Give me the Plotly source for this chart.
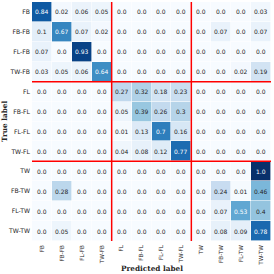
import plotly.graph_objects as go
import plotly.colors as pc

labels = ["FB", "FB-FB", "FL-FB", "TW-FB", "FL", "FB-FL", "FL-FL", "TW-FL",
          "TW", "FB-TW", "FL-TW", "TW-TW"]

row_FB    = [0.84, 0.02, 0.06, 0.05, 0.0, 0.0, 0.0, 0.0, 0.0, 0.0, 0.0, 0.03]
row_FB_FB = [0.1, 0.67, 0.07, 0.02, 0.0, 0.0, 0.0, 0.0, 0.0, 0.07, 0.0, 0.07]
row_FL_FB = [0.07, 0.0, 0.93, 0.0, 0.0, 0.0, 0.0, 0.0, 0.0, 0.0, 0.0, 0.0]
row_TW_FB = [0.03, 0.05, 0.06, 0.64, 0.0, 0.0, 0.0, 0.0, 0.0, 0.0, 0.02, 0.19]
row_FL    = [0.0, 0.0, 0.0, 0.0, 0.27, 0.32, 0.18, 0.23, 0.0, 0.0, 0.0, 0.0]
row_FB_FL = [0.0, 0.0, 0.0, 0.0, 0.05, 0.39, 0.26, 0.3, 0.0, 0.0, 0.0, 0.0]
row_FL_FL = [0.0, 0.0, 0.0, 0.0, 0.01, 0.13, 0.7, 0.16, 0.0, 0.0, 0.0, 0.0]
row_TW_FL = [0.0, 0.0, 0.0, 0.0, 0.04, 0.08, 0.12, 0.77, 0.0, 0.0, 0.0, 0.0]
row_TW    = [0.0, 0.0, 0.0, 0.0, 0.0, 0.0, 0.0, 0.0, 0.0, 0.0, 0.0, 1.0]
row_FB_TW = [0.0, 0.28, 0.0, 0.0, 0.0, 0.0, 0.0, 0.0, 0.0, 0.24, 0.01, 0.46]
row_FL_TW = [0.0, 0.0, 0.0, 0.0, 0.0, 0.0, 0.0, 0.0, 0.0, 0.07, 0.53, 0.4]
row_TW_TW = [0.0, 0.05, 0.0, 0.0, 0.0, 0.0, 0.0, 0.0, 0.0, 0.08, 0.09, 0.78]

z = [row_FB, row_FB_FB, row_FL_FB, row_TW_FB, row_FL, row_FB_FL, row_FL_FL,
     row_TW_FL, row_TW, row_FB_TW, row_FL_TW, row_TW_TW]

n = len(labels)
idx = list(range(n))

blues = pc.sequential.Blues
cs = [[i / (len(blues) - 1), c] for i, c in enumerate(blues)]

fig = go.Figure()
fig.add_trace(go.Heatmap(
    z=z, x=idx, y=idx, colorscale=cs, zmin=0, zmax=1, showscale=False,
    xgap=0.6, ygap=0.6, hoverinfo="skip",
))

# cell annotations
for i, row in enumerate(z):
    for j, v in enumerate(row):
        fig.add_annotation(
            x=j, y=i, text=str(v), showarrow=False,
            font=dict(family="DejaVu Sans", size=6,
                      color="white" if v > 0.5 else "#262626"),
        )

# red block separators
for b in [3.5, 7.5]:
    fig.add_shape(type="line", x0=b, x1=b, y0=-0.5, y1=n - 0.5,
                  line=dict(color="red", width=1.5), layer="above")
    fig.add_shape(type="line", x0=-0.5, x1=n - 0.5, y0=b, y1=b,
                  line=dict(color="red", width=1.5), layer="above")

fig.add_annotation(x=0.5, y=-0.113, xref="paper", yref="paper",
                   text="<b>Predicted label</b>", showarrow=False, yanchor="middle",
                   font=dict(family="DejaVu Serif", size=7.3, color="#262626"))
fig.add_annotation(x=-0.115, y=0.5, xref="paper", yref="paper",
                   text="<b>True label</b>", showarrow=False, textangle=-90,
                   xanchor="center",
                   font=dict(family="DejaVu Serif", size=7.3, color="#262626"))

fig.update_xaxes(tickvals=idx, ticktext=labels, tickangle=-90, range=[-0.5, n - 0.5],
                 showgrid=False, zeroline=False, ticks="", ticklabelstandoff=2,
                 tickfont=dict(family="DejaVu Sans", size=5.7, color="#262626"))
fig.update_yaxes(tickvals=idx, ticktext=labels, range=[n - 0.5, -0.5],
                 showgrid=False, zeroline=False, ticks="", ticklabelstandoff=1,
                 tickfont=dict(family="DejaVu Sans", size=6.1, color="#262626"))

fig.update_layout(
    width=274, height=274,
    margin=dict(l=32, r=3, t=2, b=33),
    plot_bgcolor="white", paper_bgcolor="white",
)

fig.write_html("out.html", config={"displayModeBar": False},
               post_script="document.body.style.margin='0';document.body.style.overflow='hidden';")
